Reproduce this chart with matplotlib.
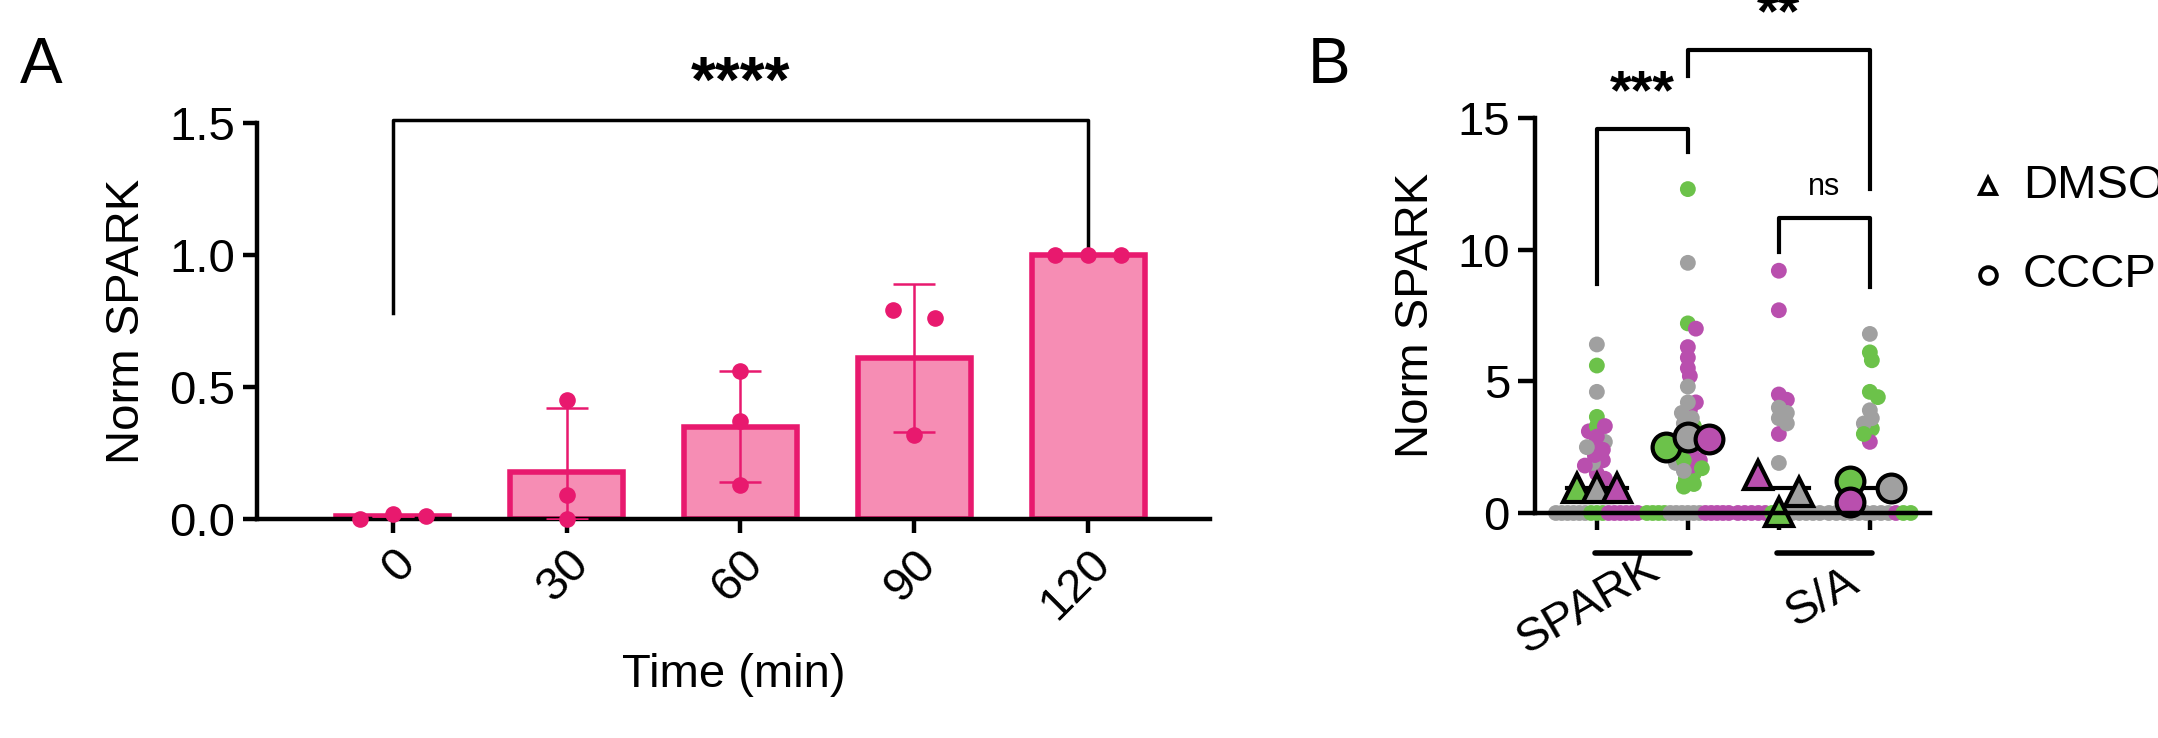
import numpy as np
import matplotlib
matplotlib.use("Agg")
import matplotlib.pyplot as plt

plt.rcParams['font.family'] = ['Liberation Sans', 'DejaVu Sans']

# ---------------- data ----------------
# Panel A
timepoints = ["0", "30", "60", "90", "120"]
a_means = [0.01, 0.18, 0.35, 0.61, 1.00]
a_sd_low = [0.0, 0.18, 0.21, 0.28, 0.0]
a_sd_high = [0.0, 0.24, 0.21, 0.28, 0.0]
a_points = [[0.0, 0.02, 0.01], [0.45, 0.09, 0.0], [0.56, 0.37, 0.13],
            [0.79, 0.76, 0.32], [1.0, 1.0, 1.0]]
a_point_offsets = [[-0.19, 0.0, 0.19], [0.0, 0.0, 0.0], [0.0, 0.0, 0.0],
                   [-0.12, 0.12, 0.0], [-0.19, 0.0, 0.19]]

# Panel B
b_groups = ["SPARK", "S/A"]
b_conditions = ["DMSO", "CCCP"]
b_cells = [
    {"gray": [6.4, 4.6, 2.7, 2.5, 1.9] + [0]*6,
     "green": [5.6, 3.65, 3.3] + [0]*3,
     "magenta": [3.3, 3.1, 2.9, 2.6, 2.4, 2.2, 2.0, 1.8, 1.5, 1.3] + [0]*6},
    {"green": [12.3, 7.2, 3.3, 2.4, 2.0, 1.7, 1.5, 1.3, 1.1, 1.0] + [0]*4,
     "gray": [9.5, 4.8, 4.2, 3.8, 3.6, 3.4, 3.1, 2.8, 2.5, 1.9, 1.6] + [0]*6,
     "magenta": [7.0, 6.3, 5.9, 5.5, 5.2, 4.2, 3.9, 3.0, 2.2, 2.0, 1.8] + [0]*5},
    {"magenta": [9.2, 7.7, 4.5, 4.3, 3.0] + [0]*5,
     "gray": [4.0, 3.8, 3.6, 3.4, 1.9] + [0]*6,
     "green": [0]*2},
    {"gray": [6.8, 3.9, 3.6, 3.4] + [0]*9,
     "green": [6.1, 5.8, 4.6, 4.4, 3.2, 3.0] + [0]*2,
     "magenta": [2.7, 0]},
]
b_means = [
    [("green", 0.95, -0.22), ("gray", 0.95, 0.0), ("magenta", 0.95, 0.22)],
    [("green", 2.5, -0.24), ("gray", 2.9, 0.0), ("magenta", 2.8, 0.23)],
    [("magenta", 1.45, -0.23), ("gray", 0.8, 0.22), ("green", 0.05, 0.0)],
    [("green", 1.2, -0.22), ("magenta", 0.4, -0.22), ("gray", 0.95, 0.23)],
]
b_meanline = [0.95, 2.75, 0.95, 0.95]

rep_colors = {"green": "#6CC24A", "gray": "#A0A0A0", "magenta": "#B94FAE"}
PINK_FILL = "#F68DB4"
PINK_EDGE = "#E8196E"
FS = 34

fig = plt.figure(figsize=(21.58, 7.38), dpi=100)

# ---------------- Panel A ----------------
axA = fig.add_axes([0.1191, 0.2967, 0.4416, 0.5366])
x = np.arange(len(timepoints))
axA.bar(x, a_means, width=0.65, color=PINK_FILL, edgecolor=PINK_EDGE, linewidth=4, zorder=2)
axA.errorbar(x, a_means, yerr=[a_sd_low, a_sd_high], fmt='none', ecolor=PINK_EDGE,
             elinewidth=1.8, capsize=15, capthick=1.8, zorder=3)
for i, (pts, offs) in enumerate(zip(a_points, a_point_offsets)):
    axA.scatter(np.array(offs) + i, pts, s=120, color=PINK_EDGE, zorder=4, clip_on=False)
axA.set_xlim(-0.78, 4.7)
axA.set_ylim(0, 1.5)
axA.set_yticks([0, 0.5, 1.0, 1.5])
axA.set_yticklabels(["0.0", "0.5", "1.0", "1.5"])
axA.set_xticks(x)
axA.set_xticklabels(timepoints, rotation=45, ha='right', rotation_mode='anchor')
for s in ['top', 'right']:
    axA.spines[s].set_visible(False)
for s in ['left', 'bottom']:
    axA.spines[s].set_linewidth(3.2)
axA.tick_params(width=3.2, length=10, labelsize=FS, pad=6)
axA.set_ylabel("Norm SPARK", fontsize=FS, labelpad=14)
axA.set_xlabel("Time (min)", fontsize=FS, labelpad=18)
axA.plot([0, 0, 4, 4], [0.78, 1.51, 1.51, 1.0], color='black', lw=2.5, clip_on=False)
axA.text(2, 1.53, "****", ha='center', va='bottom', fontsize=46, fontweight='bold')
fig.text(0.019, 0.91, "A", fontsize=46, va='center', ha='center')

# ---------------- Panel B ----------------
axB = fig.add_axes([0.7113, 0.3049, 0.183, 0.5352])
axB.set_xlim(-0.68, 3.66)
axB.set_ylim(0, 15)

px_per_unit_y = 26.3
px_per_cat = 91.0
dot_d = 8.0
for ci, cat in enumerate(b_cells):
    nonzero, zeros = [], []
    for rep, vals in cat.items():
        for v in vals:
            (zeros if v == 0 else nonzero).append((v, rep))
    nonzero.sort(key=lambda t: -t[0])
    placed = []
    for v, rep in nonzero:
        yp = v * px_per_unit_y
        best = None
        for k in range(0, 40):
            for sgn in ([0] if k == 0 else [1, -1]):
                xo = sgn * k * 2.0
                if all((xo - px) ** 2 + (yp - py) ** 2 >= dot_d ** 2 for px, py, _, _ in placed):
                    best = xo
                    break
            if best is not None:
                break
        placed.append((best, yp, v, rep))
    # zero row: evenly spread within the category band, colours interleaved
    zeros = sorted(zeros, key=lambda t: (zeros.index(t) * 5) % len(zeros))
    zoffs = np.linspace(-0.45, 0.45, len(zeros)) if len(zeros) > 1 else [0.0]
    for (v, rep), zo in zip(zeros, zoffs):
        axB.scatter(ci + zo, v, s=130, color=rep_colors[rep], edgecolor='none', zorder=2, clip_on=False)
    order = sorted(range(len(placed)), key=lambda i: (i * 7) % max(len(placed), 1))
    for i in order:
        xo, yp, v, rep = placed[i]
        axB.scatter(ci + xo / px_per_cat, v, s=130, color=rep_colors[rep], edgecolor='none',
                    zorder=2, clip_on=False)

for ci in range(4):
    axB.plot([ci - 0.33, ci + 0.33], [b_meanline[ci]] * 2, color='black', lw=3, zorder=3)
    marker = '^' if ci % 2 == 0 else 'o'
    for rep, v, off in b_means[ci]:
        axB.plot(ci + off, v, marker=marker, markersize=20, markerfacecolor=rep_colors[rep],
                 markeredgecolor='black', markeredgewidth=3, zorder=4, clip_on=False)

for s in ['top', 'right']:
    axB.spines[s].set_visible(False)
for s in ['left', 'bottom']:
    axB.spines[s].set_linewidth(3.2)
axB.spines['bottom'].set_zorder(5)
axB.set_yticks([0, 5, 10, 15])
axB.set_xticks(range(4))
axB.set_xticklabels([])
axB.tick_params(width=3.2, length=12, labelsize=FS, pad=6)
axB.set_ylabel("Norm SPARK", fontsize=FS, labelpad=14)

for gi, g in enumerate(b_groups):
    axB.plot([2 * gi - 0.02, 2 * gi + 1.02], [-1.52, -1.52], color='black', lw=4,
             clip_on=False, solid_capstyle='round')
axB.text(-0.21, -2.75, b_groups[0], rotation=30, fontsize=FS, ha='center', va='top', rotation_mode='anchor')
axB.text(2.36, -2.5, b_groups[1], rotation=30, fontsize=FS, ha='center', va='top', rotation_mode='anchor')

axB.plot([0, 0, 1, 1], [8.7, 14.6, 14.6, 13.7], color='black', lw=3, clip_on=False)
axB.text(0.5, 14.9, "***", ha='center', va='bottom', fontsize=40, fontweight='bold')
axB.plot([1, 1, 3, 3], [16.6, 17.6, 17.6, 12.3], color='black', lw=3, clip_on=False)
axB.text(2.0, 17.9, "**", ha='center', va='bottom', fontsize=40, fontweight='bold')
axB.plot([2, 2, 3, 3], [9.9, 11.2, 11.2, 8.6], color='black', lw=3, clip_on=False)
axB.text(2.5, 11.8, "ns", ha='center', va='bottom', fontsize=22)

axB.plot([4.3], [12.4], marker='^', markersize=12, markerfacecolor='white', markeredgecolor='black',
         markeredgewidth=2.8, clip_on=False)
axB.plot([4.3], [9.05], marker='o', markersize=12, markerfacecolor='white', markeredgecolor='black',
         markeredgewidth=2.8, clip_on=False)
axB.text(4.68, 12.4, b_conditions[0], fontsize=FS, va='center', ha='left', clip_on=False)
axB.text(4.68, 9.05, b_conditions[1], fontsize=FS, va='center', ha='left', clip_on=False)
fig.text(0.616, 0.91, "B", fontsize=46, va='center', ha='center')

fig.savefig("out.png", dpi=100)
